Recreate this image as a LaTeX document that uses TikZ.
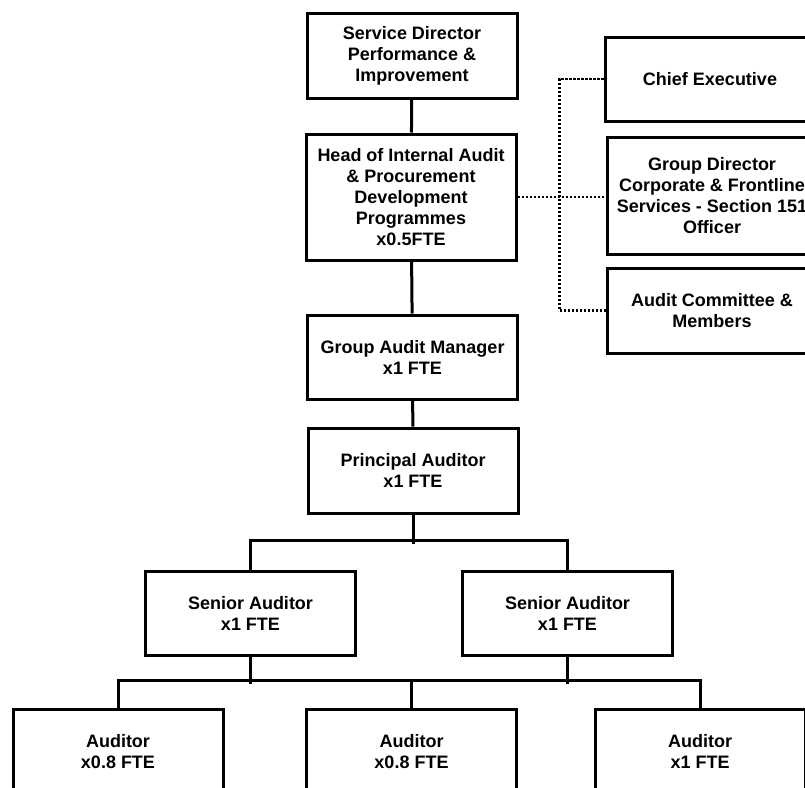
\documentclass[tikz,border=0pt]{standalone}
\usepackage{fontspec}
\setmainfont{Liberation Sans}
\usepackage{tikz}
\usetikzlibrary{positioning}

\begin{document}
\begin{tikzpicture}[x=1pt, y=-1pt,
        post/.style={draw, line width=3pt, inner sep=0pt, align=center,
            minimum width=210pt, font=\bfseries\fontsize{18}{21}\selectfont},
        link/.style={line width=3pt},
        dotlink/.style={line width=2.5pt, dash pattern=on 2.2pt off 1.8pt}]
        \useasboundingbox (0,0) rectangle (805,787);
        \clip (0,0) rectangle (805,787);
        % main line
        \node[post, minimum height=85pt] (sd)   at (412,55.5)  {Service Director\\Performance \&\\Improvement};
        \node[post, minimum height=126pt] (head) at (411,197)   {Head of Internal Audit\\\& Procurement\\Development\\Programmes\\x0.5FTE};
        \node[post, minimum height=84pt] (gam)  at (412.5,357) {Group Audit Manager\\x1 FTE};
        \node[post, minimum height=85pt] (pa)   at (413,470.5) {Principal Auditor\\x1 FTE};
        \node[post, minimum height=84pt] (sa1)  at (250.5,613) {Senior Auditor\\x1 FTE};
        \node[post, minimum height=84pt] (sa2)  at (567.5,613) {Senior Auditor\\x1 FTE};
        \node[post, minimum height=85pt] (au1)  at (118,751.5) {Auditor\\x0.8 FTE};
        \node[post, minimum height=85pt] (au2)  at (411.5,751.5) {Auditor\\x0.8 FTE};
        \node[post, minimum height=85pt] (au3)  at (700,751.5) {Auditor\\x1 FTE};
        % side posts
        \node[post, minimum height=84pt] (ce)   at (710,79)    {Chief Executive};
        \node[post, minimum height=117pt] (gd)  at (712,195.5) {Group Director\\Corporate \& Frontline\\Services - Section 151\\Officer};
        \node[post, minimum height=85pt] (ac)   at (712,310.5) {Audit Committee \&\\Members};

        \draw[link] (sd) -- (head);
        \draw[link] (head) -- (gam);
        \draw[link] (gam) -- (pa);
        \draw[link] (pa.south) -- ++(0,29);
        \draw[link] (sa1.north) -- ++(0,-29) -| (sa2.north);
        \draw[link] (sa1.south) -- ++(0,27);
        \draw[link] (sa2.south) -- ++(0,27);
        \draw[link] (au1.north) -- ++(0,-27) -| (au3.north);
        \draw[link] (au2.north) -- ++(0,-27);

        \draw[dotlink] (head.east) -- (head.east -| gd.west);
        \draw[dotlink] (ce.west) -- ++(-44,0) |- (ac.west);
    \end{tikzpicture}
\end{document}
